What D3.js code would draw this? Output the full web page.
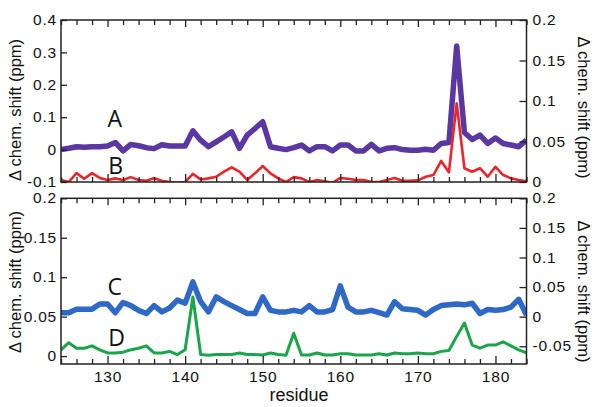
<!DOCTYPE html>
<html>
<head>
<meta charset="utf-8">
<script src="https://cdn.jsdelivr.net/npm/d3@7"></script>
<style>
  html, body { margin: 0; padding: 0; background: #fff; }
  svg { display: block; }
</style>
</head>
<body>
<svg id="chart" width="600" height="407"></svg>
<script>
// ---------- data ----------
const residues = [124,125,126,127,128,129,130,131,132,133,134,135,136,137,138,139,140,141,142,143,144,145,146,147,148,149,150,151,152,153,154,155,156,157,158,159,160,161,162,163,164,165,166,167,168,169,170,171,172,173,174,175,176,177,178,179,180,181,182,183,184];

// A (top panel, left axis)
const seriesA = [0.0,0.004,0.009,0.007,0.009,0.009,0.011,0.022,-0.004,0.016,0.012,0.006,0.003,0.015,0.011,0.011,0.011,0.058,0.029,0.009,0.024,0.039,0.055,0.004,0.045,0.065,0.086,0.009,0.004,0.0,0.006,0.014,-0.004,0.009,0.009,-0.004,0.014,0.014,-0.004,-0.004,0.016,-0.004,0.004,0.006,0.0,-0.002,-0.002,0.001,-0.002,0.019,0.022,0.32,0.053,0.031,0.045,0.019,0.036,0.019,0.014,0.009,0.029];
// B (top panel, right axis)
const seriesB = [0.0025,0.0,0.011,0.004,0.011,0.005,0.0025,0.0045,0.0025,0.006,0.0025,0.0015,0.0045,0.0015,0.0,-0.001,0.0,0.01,0.003,0.0045,0.0065,0.0127,0.018,0.0127,0.0025,0.0107,0.0197,0.0107,0.0045,0.0,0.006,0.0045,0.0,0.0025,0.001,-0.001,0.005,0.004,0.0025,0.0025,0.0,0.0,0.0025,0.005,0.0015,0.0015,0.002,0.0065,0.0086,0.026,0.012,0.097,0.017,0.0127,0.017,0.0065,0.0188,0.0086,0.0045,0.0025,0.001];
// C (bottom panel, left axis)
const seriesC = [0.055,0.055,0.0595,0.0595,0.0595,0.066,0.066,0.055,0.068,0.064,0.058,0.054,0.064,0.056,0.061,0.071,0.067,0.094,0.069,0.056,0.075,0.069,0.064,0.059,0.054,0.054,0.075,0.058,0.056,0.056,0.058,0.056,0.064,0.056,0.056,0.059,0.089,0.062,0.056,0.056,0.058,0.055,0.052,0.069,0.060,0.059,0.058,0.052,0.059,0.064,0.065,0.066,0.065,0.067,0.054,0.059,0.058,0.059,0.062,0.072,0.052];
// D (bottom panel, left axis)
const seriesD = [0.008,0.017,0.010,0.010,0.013,0.008,0.004,0.004,0.005,0.008,0.010,0.013,0.004,0.004,0.006,0.002,0.008,0.075,0.002,0.001,0.002,0.002,0.002,0.004,0.002,0.002,0.0015,0.004,0.002,0.001,0.029,0.0015,0.0015,0.004,0.0015,0.0015,0.003,0.003,0.0015,0.0015,0.0015,0.003,0.0015,0.004,0.003,0.003,0.004,0.003,0.003,0.006,0.007,0.025,0.042,0.014,0.010,0.014,0.014,0.018,0.013,0.008,0.004];

// tick labels
const xMajorTicks = [130,140,150,160,170,180];
const xMinorTicks = [124,126,128,132,134,136,138,142,144,146,148,152,154,156,158,162,164,166,168,172,174,176,178,182,184];
const topLeftTicks = [-0.1,0,0.1,0.2,0.3,0.4];
const topRightTicks = [0,0.05,0.1,0.15,0.2];
const botLeftTicks = [0,0.05,0.1,0.15,0.2];
const botRightTicks = [-0.05,0,0.05,0.1,0.15,0.2];

const seriesLabels = ["A","B","C","D"];
const axisTitle = "Δ chem. shift (ppm)";
const xTitle = "residue";

// ---------- layout ----------
const svg = d3.select("#chart");
const L = 61, R = 526.5;
const top1 = 20, bot1 = 182, top2 = 198.3, bot2 = 364;
const tickFont = "'Liberation Sans', Arial, Helvetica, sans-serif";
const fmt = d => String(+d.toFixed(3));

const x = d3.scaleLinear().domain([124,184]).range([L,R]);
const yTL = d3.scaleLinear().domain([-0.1,0.4]).range([bot1,top1]);
const yTR = d3.scaleLinear().domain([0,0.2]).range([bot1,top1]);
const yBL = d3.scaleLinear().domain([-0.01,0.2]).range([bot2,top2]);
const yBR = d3.scaleLinear().domain([-0.08,0.2]).range([bot2,top2]);

svg.append("rect").attr("width",600).attr("height",407).attr("fill","#fff");

const defs = svg.append("defs");
defs.append("clipPath").attr("id","clipTop").append("rect")
  .attr("x",L).attr("y",top1).attr("width",R-L).attr("height",bot1-top1);
defs.append("clipPath").attr("id","clipBot").append("rect")
  .attr("x",L).attr("y",top2).attr("width",R-L).attr("height",bot2-top2);

function styleAxis(g){
  g.select(".domain").remove();
  g.selectAll(".tick line").attr("stroke","#222").attr("stroke-width",1.3);
  g.selectAll(".tick text").attr("fill","#111").attr("font-family",tickFont)
    .attr("font-size","15.5px").attr("letter-spacing","0.8px");
}

function panel(yL, yR, top, bot, leftTicks, rightTicks, showXLabels){
  const gxb = svg.append("g").attr("transform",`translate(0,${bot})`)
    .call(d3.axisBottom(x).tickValues(xMajorTicks).tickSize(-8).tickPadding(7)
      .tickFormat(showXLabels ? d3.format("d") : () => ""));
  styleAxis(gxb);
  const gxbm = svg.append("g").attr("transform",`translate(0,${bot})`)
    .call(d3.axisBottom(x).tickValues(xMinorTicks).tickSize(-5).tickFormat(() => ""));
  styleAxis(gxbm);
  const gxt = svg.append("g").attr("transform",`translate(0,${top})`)
    .call(d3.axisTop(x).tickValues(xMajorTicks).tickSize(-7).tickFormat(() => ""));
  styleAxis(gxt);
  const gxtm = svg.append("g").attr("transform",`translate(0,${top})`)
    .call(d3.axisTop(x).tickValues(xMinorTicks).tickSize(-5).tickFormat(() => ""));
  styleAxis(gxtm);
  const gl = svg.append("g").attr("transform",`translate(${L},0)`)
    .call(d3.axisLeft(yL).tickValues(leftTicks).tickSize(-6).tickPadding(4).tickFormat(fmt));
  styleAxis(gl);
  gl.selectAll(".tick text").attr("dy","0.3em");
  const gr = svg.append("g").attr("transform",`translate(${R},0)`)
    .call(d3.axisRight(yR).tickValues(rightTicks).tickSize(-7).tickPadding(6).tickFormat(fmt));
  styleAxis(gr);
  gr.selectAll(".tick text").attr("dy","0.3em");
  svg.append("rect").attr("x",L).attr("y",top).attr("width",R-L).attr("height",bot-top)
    .attr("fill","none").attr("stroke","#222").attr("stroke-width",1.5);
}

function drawLine(values, yScale, color, width, clip){
  const line = d3.line().x((d,i) => x(residues[i])).y(d => yScale(d));
  svg.append("path").datum(values)
    .attr("clip-path",`url(#${clip})`)
    .attr("d", line)
    .attr("fill","none").attr("stroke",color).attr("stroke-width",width)
    .attr("stroke-linejoin","round");
}

drawLine(seriesA, yTL, "#5a37a3", 5.5, "clipTop");
drawLine(seriesB, yTR, "#ee2428", 2.6, "clipTop");
drawLine(seriesC, yBL, "#2f69c8", 5.5, "clipBot");
drawLine(seriesD, yBL, "#1ba54a", 3, "clipBot");

panel(yTL, yTR, top1, bot1, topLeftTicks, topRightTicks, false);
panel(yBL, yBR, top2, bot2, botLeftTicks, botRightTicks, true);

// series letters (positioned at residue 130, in each panel's left-axis units)
const letterFont = "'Open Sans', 'Noto Sans', sans-serif";
const letterPos = [
  {t: seriesLabels[0], r: 130, v: 0.069, s: yTL},
  {t: seriesLabels[1], r: 130.1, v: -0.075, s: yTL},
  {t: seriesLabels[2], r: 130, v: 0.077, s: yBL},
  {t: seriesLabels[3], r: 130.1, v: 0.0122, s: yBL}
];
letterPos.forEach(p => {
  svg.append("text").attr("x", x(p.r)).attr("y", p.s(p.v))
    .attr("font-family", letterFont).attr("font-size","23px").attr("fill","#111")
    .text(p.t);
});

function title(tx, ty, rot){
  svg.append("text").attr("transform",`translate(${tx},${ty}) rotate(${rot})`)
    .attr("text-anchor","middle").attr("font-family",tickFont).attr("font-size","16.5px")
    .attr("fill","#111").text(axisTitle);
}
title(20.5, 110, -90);
title(20.5, 282, -90);
title(577.5, 107.5, 90);
title(577.5, 291.5, 90);

svg.append("text").attr("x",299).attr("y",401).attr("text-anchor","middle")
  .attr("font-family",tickFont).attr("font-size","18px").attr("fill","#111").text(xTitle);
</script>
</body>
</html>
